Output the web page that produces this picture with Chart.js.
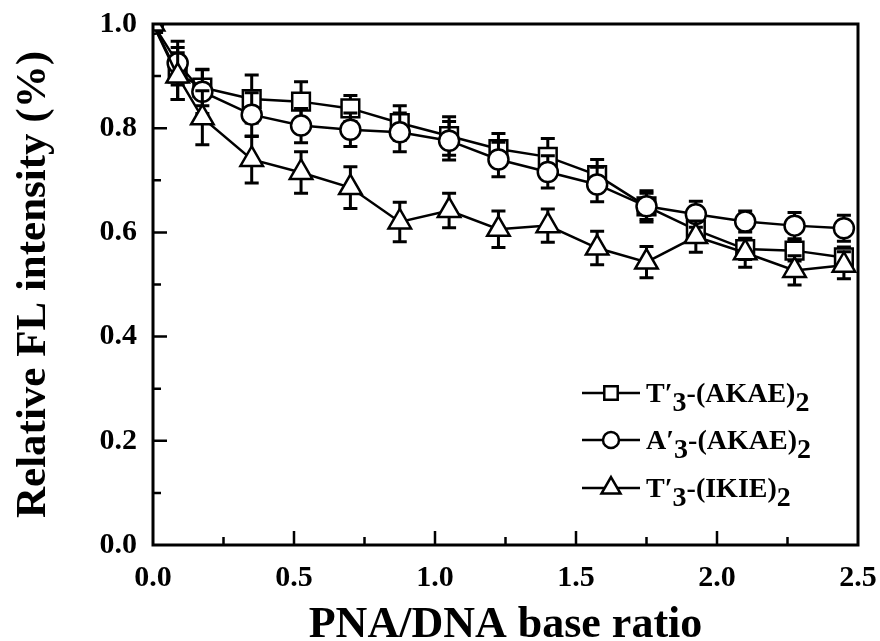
<!DOCTYPE html>
<html>
<head>
<meta charset="utf-8">
<script src="https://cdn.jsdelivr.net/npm/chart.js@4.4.1/dist/chart.umd.min.js"></script>
<style>
  html, body { margin: 0; padding: 0; background: #fff; }
  #wrap { width: 880px; height: 641px; }
</style>
</head>
<body>
<div id="wrap"><canvas id="flChart" width="880" height="641"></canvas></div>
<script>
// PNA/DNA base ratio (x)
const ratios = [0, 0.0875, 0.175, 0.35, 0.525, 0.7, 0.875, 1.05, 1.225, 1.4, 1.575, 1.75, 1.925, 2.1, 2.275, 2.45];

// T'3-(AKAE)2
const tAkae = [1.0, 0.905, 0.878, 0.856, 0.851, 0.838, 0.81, 0.785, 0.76, 0.745, 0.71, 0.65, 0.605, 0.568, 0.565, 0.552];
const tAkaeErr = [0, 0.05, 0.035, 0.046, 0.038, 0.025, 0.033, 0.037, 0.03, 0.035, 0.03, 0.025, 0.022, 0.02, 0.02, 0.02];

// A'3-(AKAE)2
const aAkae = [1.0, 0.925, 0.87, 0.826, 0.805, 0.797, 0.792, 0.776, 0.74, 0.716, 0.692, 0.65, 0.635, 0.621, 0.613, 0.608];
const aAkaeErr = [0, 0.042, 0.042, 0.042, 0.033, 0.032, 0.037, 0.037, 0.033, 0.031, 0.033, 0.03, 0.025, 0.02, 0.025, 0.025];

// T'3-(IKIE)2
const tIkie = [1.0, 0.9, 0.82, 0.74, 0.715, 0.686, 0.62, 0.642, 0.606, 0.613, 0.57, 0.543, 0.592, 0.561, 0.527, 0.537];
const tIkieErr = [0, 0.045, 0.052, 0.045, 0.04, 0.04, 0.038, 0.033, 0.035, 0.032, 0.032, 0.03, 0.03, 0.028, 0.028, 0.026];

// legend text pieces: [text, isSubscript]
const legendLabels = [
    [['T\u2032', 0], ['3', 1], ['-(AKAE)', 0], ['2', 1]],
    [['A\u2032', 0], ['3', 1], ['-(AKAE)', 0], ['2', 1]],
    [['T\u2032', 0], ['3', 1], ['-(IKIE)', 0], ['2', 1]]
];

const SERIF = '"Liberation Serif", "Times New Roman", serif';

function toPoints(ys) {
    return ratios.map((x, i) => ({ x: x, y: ys[i] }));
}

// Error bars, drawn just before each dataset so later markers sit on top
const errorBars = {
    id: 'errorBars',
    beforeDatasetDraw(chart, args) {
        const ds = chart.data.datasets[args.index];
        if (!ds.errors) return;
        const { ctx, scales: { x, y } } = chart;
        ctx.save();
        ctx.strokeStyle = '#000';
        ctx.lineWidth = 3;
        ds.data.forEach((p, i) => {
            const e = ds.errors[i];
            if (!e) return;
            const px = x.getPixelForValue(p.x);
            const top = y.getPixelForValue(p.y + e);
            const bot = y.getPixelForValue(p.y - e);
            ctx.beginPath();
            ctx.moveTo(px, top); ctx.lineTo(px, bot);
            ctx.moveTo(px - 7, top); ctx.lineTo(px + 7, top);
            ctx.moveTo(px - 7, bot); ctx.lineTo(px + 7, bot);
            ctx.stroke();
        });
        ctx.restore();
    }
};

// Box frame + inward ticks on the left and bottom axes
const frame = {
    id: 'frame',
    afterDatasetsDraw(chart) {
        const { ctx, chartArea: a, scales: { x, y } } = chart;
        ctx.save();
        ctx.strokeStyle = '#000';
        ctx.lineWidth = 3;
        ctx.strokeRect(a.left, a.top, a.right - a.left, a.bottom - a.top);
        ctx.lineWidth = 2.5;
        ctx.beginPath();
        for (let i = 1; i < 10; i++) {
            const px = x.getPixelForValue(i * 0.25);
            const len = i % 2 === 0 ? 14 : 8;
            ctx.moveTo(px, a.bottom); ctx.lineTo(px, a.bottom - len);
        }
        for (let i = 1; i < 10; i++) {
            const py = y.getPixelForValue(i * 0.1);
            const len = i % 2 === 0 ? 14 : 8;
            ctx.moveTo(a.left, py); ctx.lineTo(a.left + len, py);
        }
        ctx.stroke();
        ctx.restore();
    }
};

// Legend with subscripts
const subLegend = {
    id: 'subLegend',
    afterDraw(chart) {
        const ctx = chart.ctx;
        const rowsY = [393, 440, 488];
        ctx.save();
        chart.data.datasets.forEach((ds, i) => {
            const yy = rowsY[i];
            ctx.strokeStyle = '#000';
            ctx.lineWidth = 2.5;
            ctx.beginPath();
            ctx.moveTo(582, yy); ctx.lineTo(640, yy);
            ctx.stroke();
            ctx.fillStyle = '#fff';
            Chart.helpers.drawPoint(ctx, {
                pointStyle: ds.pointStyle,
                radius: ds.legendRadius,
                rotation: 0,
                borderWidth: 2.5
            }, 611, yy);
            ctx.fillStyle = '#000';
            ctx.textBaseline = 'alphabetic';
            ctx.textAlign = 'left';
            let tx = 646;
            legendLabels[i].forEach(([txt, sub]) => {
                ctx.font = 'bold 28px ' + SERIF;
                ctx.fillText(txt, tx, sub ? yy + 18 : yy + 9);
                tx += ctx.measureText(txt).width;
            });
        });
        ctx.restore();
    }
};

const ctx = document.getElementById('flChart').getContext('2d');
const flChart = new Chart(ctx, {
    type: 'line',
    data: {
        datasets: [{
            label: "T'3-(AKAE)2",
            data: toPoints(tAkae),
            errors: tAkaeErr,
            pointStyle: 'rect',
            pointRadius: 12.5,
            legendRadius: 9.5,
            order: 3
        }, {
            label: "A'3-(AKAE)2",
            data: toPoints(aAkae),
            errors: aAkaeErr,
            pointStyle: 'circle',
            pointRadius: 10,
            legendRadius: 8,
            order: 2
        }, {
            label: "T'3-(IKIE)2",
            data: toPoints(tIkie),
            errors: tIkieErr,
            pointStyle: 'triangle',
            pointRadius: 13,
            legendRadius: 11,
            order: 1
        }].map(d => Object.assign({
            borderColor: '#000',
            backgroundColor: '#fff',
            pointBackgroundColor: '#fff',
            pointBorderColor: '#000',
            pointBorderWidth: 2.5,
            borderWidth: 2.5,
            tension: 0,
            fill: false
        }, d))
    },
    options: {
        responsive: false,
        animation: false,
        layout: { padding: { top: 24, right: 22, left: 0, bottom: 0 } },
        plugins: {
            legend: { display: false },
            tooltip: { enabled: false }
        },
        scales: {
            x: {
                type: 'linear',
                min: 0,
                max: 2.5,
                grid: { display: false, drawTicks: false },
                border: { display: false },
                ticks: {
                    stepSize: 0.5,
                    padding: 15,
                    color: '#000',
                    font: { family: SERIF, size: 30, weight: 'bold' },
                    maxRotation: 0,
                    callback: v => v.toFixed(1)
                },
                title: {
                    display: true,
                    text: 'PNA/DNA base ratio',
                    color: '#000',
                    font: { family: SERIF, size: 44, weight: 'bold' },
                    padding: { top: 0, bottom: -11 }
                },
                afterFit: s => {
                    s.height = 96;
                    s.paddingLeft = 0;
                    s.paddingRight = 0;
                }
            },
            y: {
                min: 0,
                max: 1,
                grid: { display: false, drawTicks: false },
                border: { display: false },
                ticks: {
                    stepSize: 0.2,
                    padding: 16,
                    color: '#000',
                    font: { family: SERIF, size: 30, weight: 'bold' },
                    callback: v => v.toFixed(1)
                },
                title: {
                    display: true,
                    text: 'Relative FL intensity (%)',
                    color: '#000',
                    font: { family: SERIF, size: 43, weight: 'bold' },
                    padding: { top: 8, bottom: 0 }
                },
                afterFit: s => {
                    s.width = 153;
                    s.paddingTop = 0;
                    s.paddingBottom = 0;
                }
            }
        }
    },
    plugins: [errorBars, frame, subLegend]
});
</script>
</body>
</html>
